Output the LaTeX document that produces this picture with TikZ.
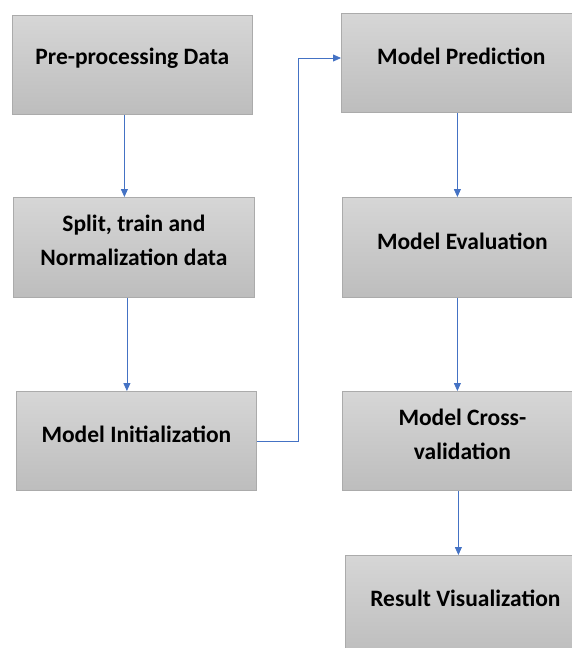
\documentclass[tikz,border=0pt]{standalone}
\usepackage{fontspec}
\setmainfont{Carlito}
\usetikzlibrary{arrows.meta}
\definecolor{flowblue}{HTML}{4472C4}
\definecolor{boxtop}{HTML}{D6D6D6}
\definecolor{boxbottom}{HTML}{BDBDBD}
\definecolor{boxedge}{HTML}{ABABAB}
\tikzset{
  px/.style={x=1pt,y=-1pt},
  stagebox/.style={draw=boxedge, line width=0.8pt, top color=boxtop, bottom color=boxbottom,
    minimum width=240pt, minimum height=99pt, inner sep=0pt, anchor=north west},
  stagetext/.style={font=\bfseries\fontsize{23.5}{34}\selectfont, align=center, inner sep=0pt, text=black},
  flow/.style={draw=flowblue, line width=0.8pt, -{Triangle[width=7pt,length=8pt]}},
}
\begin{document}
\begin{tikzpicture}[px]
\useasboundingbox (0,0) rectangle (572,648);
\clip (0,0) rectangle (572,648);
% left column
\node[stagebox] (b1) at (12,15) {};
\node[stagebox, minimum width=241pt, minimum height=100pt] (b2) at (13,197) {};
\node[stagebox] (b3) at (16,391) {};
% right column
\node[stagebox] (b4) at (341,13) {};
\node[stagebox, minimum height=100pt] (b5) at (342,197) {};
\node[stagebox] (b6) at (342,391) {};
\node[stagebox, minimum height=100pt] (b7) at (345,555) {};
% captions
\node[stagetext] (t1) at ([yshift=-43pt]b1.north) {Pre-processing Data};
\node[stagetext] (t2) at ([yshift=-43pt]b2.north) {Split, train and\\Normalization data};
\node[stagetext] (t3) at ([yshift=-43pt]b3.north) {Model Initialization};
\node[stagetext] (t4) at ([yshift=-43pt]b4.north) {Model Prediction};
\node[stagetext] (t5) at ([yshift=-44pt]b5.north) {Model Evaluation};
\node[stagetext] (t6) at ([yshift=-43pt]b6.north) {Model Cross-\\validation};
\node[stagetext] (t7) at ([yshift=-43pt]b7.north) {Result Visualization};
% connectors
\coordinate (up) at (298,58);
\draw[flow] ([xshift=-8pt]b1.south) -- ([xshift=-8pt]b1.south |- b2.north);
\draw[flow] ([xshift=-7pt]b2.south) -- ([xshift=-7pt]b2.south |- b3.north);
\draw[flow] ([yshift=-50pt]b3.north east) -| (up) -- (up -| b4.west);
\draw[flow] ([xshift=-4pt]b4.south) -- ([xshift=-4pt]b4.south |- b5.north);
\draw[flow] ([xshift=-5pt]b5.south) -- ([xshift=-5pt]b5.south |- b6.north);
\draw[flow] ([xshift=-4pt]b6.south) -- ([xshift=-4pt]b6.south |- b7.north);
\end{tikzpicture}
\end{document}
